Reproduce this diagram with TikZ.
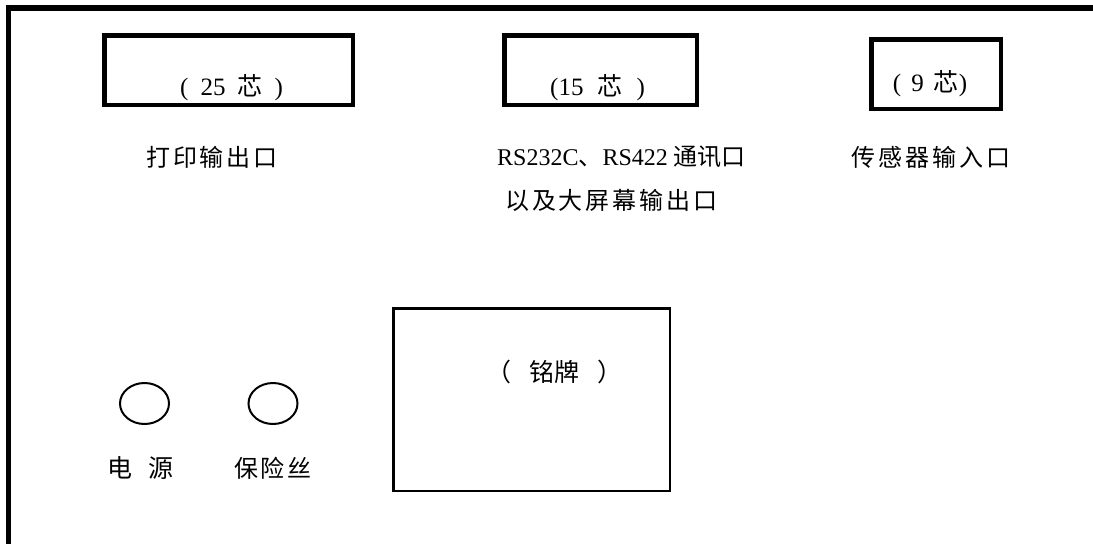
\documentclass[tikz,border=0pt]{standalone}
\usepackage{fontspec}
\setmainfont{Liberation Serif}
\newfontfamily\cjk{Noto Sans CJK SC}[LetterSpace=12]
\newfontfamily\cjkn{Noto Sans CJK SC}
\usetikzlibrary{shapes.geometric}
\newcommand{\zh}[1]{{\cjk #1}}
\newcommand{\zn}[1]{{\cjkn #1}}
\tikzset{
  port/.style={draw, line width=4.5pt, rectangle, inner sep=0pt},
  plate/.style={draw, line width=2.5pt, rectangle, inner sep=0pt},
  hole/.style={draw, line width=2pt, ellipse, inner sep=0pt, minimum width=49pt, minimum height=41pt},
  txt/.style={inner sep=0pt, font=\fontsize{24}{29}\selectfont},
  btxt/.style={inner sep=0pt, font=\fontsize{25}{30}\selectfont},
}
\begin{document}
\begin{tikzpicture}[x=1pt,y=-1pt]
\useasboundingbox (0,0) rectangle (1093,544);
% outer frame
\coordinate (tr) at (1093,8);
\coordinate (tl) at (8.5,8);
\coordinate (bl) at (8.5,544);
\draw[line width=5.5pt, line join=miter] (tr) -- (tl) -- (bl);
% port boxes
\node[port, minimum width=248.5pt, minimum height=69.5pt] (b25) at (228.5,70) {};
\node[port, minimum width=192.5pt, minimum height=69.5pt] (b15) at (600.5,70) {};
\node[port, minimum width=129.5pt, minimum height=69.5pt] (b9) at (936,74) {};
\node[btxt] (t25) at (231.5,88) {(\hspace{12pt}25\hspace{12pt}\zn{芯}\hspace{12pt})};
\node[btxt] (t15) at (597.5,88) {(15\hspace{14pt}\zn{芯}\hspace{14pt})};
\node[btxt] (t9) at (930,84) {(\hspace{10pt}9\hspace{10pt}\zn{芯})};
% labels
\node[txt] (l1) at (212,157) {\zh{打印输出口}};
\node[txt, anchor=west] (l2) at (497,157) {RS232C\zn{、}RS422\hspace{6pt}\zn{通讯口}};
\node[txt, anchor=west] (l2b) at (505,200) {\zh{以及大屏幕输出口}};
\node[txt] (l3) at (931,157) {\zh{传感器输入口}};
% nameplate
\node[plate, minimum width=276.5pt, minimum height=182.5pt] (np) at (531.5,399.5) {};
\node[btxt] (npt) at (554,372) {\zn{（\hspace{18pt}铭牌\hspace{18pt}）}};
% holes
\node[hole] (c1) at (144.5,403.5) {};
\node[hole] (c2) at (273,403.5) {};
\node[btxt] (lc1) at (140,468) {\zn{电\hspace{16pt}源}};
\node[txt] (lc2) at (273,468) {\zh{保险丝}};
\end{tikzpicture}
\end{document}
